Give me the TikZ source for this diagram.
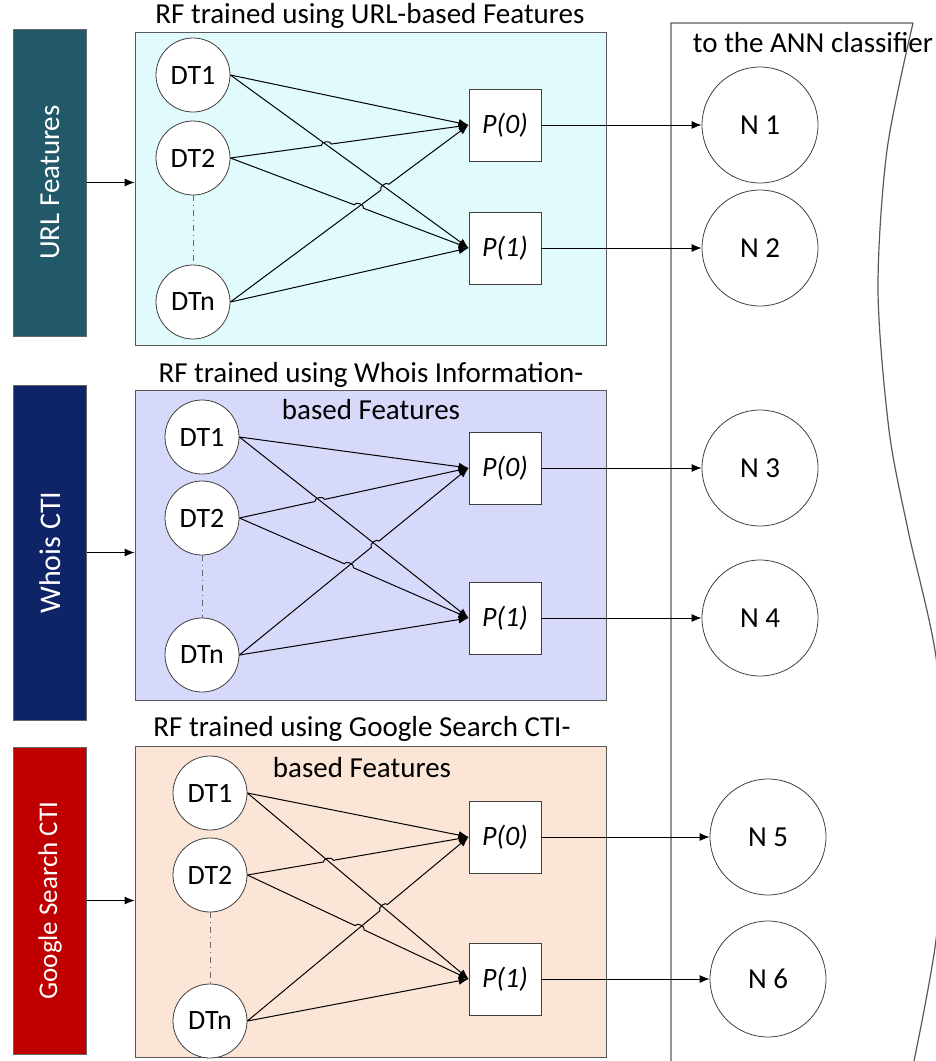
\documentclass[tikz,border=0pt]{standalone}
\usepackage{fontspec}
\setmainfont{Carlito}
\usepackage{tikz}
\usetikzlibrary{arrows.meta, calc}

\definecolor{urlbar}{HTML}{215968}
\definecolor{whoisbar}{HTML}{0F2466}
\definecolor{googlebar}{HTML}{C00000}
\definecolor{urlfill}{HTML}{E1FAFC}
\definecolor{whoisfill}{HTML}{D7D9FA}
\definecolor{googlefill}{HTML}{FBE5D6}

\begin{document}
\begin{tikzpicture}[x=0.5pt, y=-0.5pt,
      featbar/.style={rectangle, draw=black!60, rotate=90, minimum height=36.5pt, inner sep=0pt,
        text=white},
      rfbox/.style={rectangle, draw=black!65, minimum width=235.5pt, inner sep=0pt},
      tree/.style={circle, draw=black!75, fill=white, minimum size=37pt, inner sep=0pt,
        font=\fontsize{14}{16}\selectfont},
      prob/.style={rectangle, draw=black!75, fill=white, minimum size=36pt, inner sep=0pt,
        font=\fontsize{14}{16}\selectfont\itshape},
      neuron/.style={circle, draw=black!75, minimum size=58pt, inner sep=0pt,
        font=\fontsize{14.5}{16}\selectfont},
      title/.style={font=\fontsize{14.5}{18.5}\selectfont, align=center, inner sep=0pt},
      link/.style={-{Latex[length=5pt, width=4pt]}, line width=0.5pt},
      chain/.style={dash dot, black!60, line width=0.4pt}]

      \useasboundingbox (0,0) rectangle (936,1061);

      % ANN panel
      \draw[black!65, line width=0.6pt] (671,1061) -- (671,23) -- (913,23)
        plot[smooth] coordinates {(913,23) (887,150) (878,290) (889,430) (908,530)
          (936,657) (946,800) (936,940) (914,1061)};
      \node[title] (anntitle) at (813,43) {to the ANN classifier};

      % Feature sources
      \node[featbar, fill=urlbar, minimum width=153.5pt, font=\fontsize{14.5}{16}\selectfont] (urlbar) at (50,182.5) {URL Features};
      \node[featbar, fill=whoisbar, minimum width=167.5pt, font=\fontsize{15}{17}\selectfont] (whoisbar) at (50,552.5) {Whois CTI};
      \node[featbar, fill=googlebar, minimum width=153.5pt, font=\fontsize{13.5}{16}\selectfont] (googlebar) at (50,900.5) {Google Search CTI};

      % RF on URL features
      \node[rfbox, fill=urlfill, minimum height=156.5pt] (rfa) at (370.5,188.5) {};
      \node[title] (ta) at (370,16) {RF trained using URL-based Features};
      \node[tree] (dt1a) at (193,75) {DT1};
      \node[tree] (dt2a) at (193,158) {DT2};
      \node[tree] (dtna) at (193,302) {DTn};
      \node[prob] (p0a) at (505,125) {P(0)};
      \node[prob] (p1a) at (505,248) {P(1)};
      \node[neuron] (n1) at (760,125) {N 1};
      \node[neuron] (n2) at (760,248) {N 2};

      % RF on Whois features
      \node[rfbox, fill=whoisfill, minimum height=155pt] (rfb) at (370.5,545) {};
      \node[title] (tb) at (371,391.5) {RF trained using Whois Information-\\based Features};
      \node[tree] (dt1b) at (202,437) {DT1};
      \node[tree] (dt2b) at (202,518) {DT2};
      \node[tree] (dtnb) at (202,655) {DTn};
      \node[prob] (p0b) at (505,468) {P(0)};
      \node[prob] (p1b) at (505,618) {P(1)};
      \node[neuron] (n3) at (760,468) {N 3};
      \node[neuron] (n4) at (760,618) {N 4};

      % RF on Google Search features
      \node[rfbox, fill=googlefill, minimum height=155.5pt] (rfc) at (370.5,901.5) {};
      \node[title] (tc) at (362,747.5) {RF trained using Google Search CTI-\\[2pt]based Features};
      \node[tree] (dt1c) at (210,793) {DT1};
      \node[tree] (dt2c) at (210,875) {DT2};
      \node[tree] (dtnc) at (210,1021) {DTn};
      \node[prob] (p0c) at (505,837) {P(0)};
      \node[prob] (p1c) at (505,979) {P(1)};
      \node[neuron] (n5) at (768,837) {N 5};
      \node[neuron] (n6) at (768,979) {N 6};

      % Arrows
      \draw[link] (urlbar.south) -- (urlbar.south -| rfa.west);
      \draw[link] (whoisbar.south) -- (whoisbar.south -| rfb.west);
      \draw[link] (googlebar.south) -- (googlebar.south -| rfc.west);

      \foreach \b in {a,b,c} {
        \draw[chain] (dt2\b.south) -- (dtn\b.north);
        \draw[link] (dt1\b.east) -- (p0\b.west);
        \draw[link] (dt1\b.east) -- (p1\b.west);
        \draw[link] (dtn\b.east) -- (p1\b.west);
        % hops where links cross
        \coordinate (xa\b) at (intersection of dt2\b.east--p0\b.west and dt1\b.east--p1\b.west);
        \coordinate (xb\b) at (intersection of dtn\b.east--p0\b.west and dt1\b.east--p1\b.west);
        \coordinate (xc\b) at (intersection of dt2\b.east--p1\b.west and dtn\b.east--p0\b.west);
        \draw[link] (dt2\b.east) -- ($(xa\b)!2.5pt!(dt2\b.east)$) to[bend left=90] ($(xa\b)!2.5pt!(p0\b.west)$) -- (p0\b.west);
        \draw[link] (dtn\b.east) -- ($(xb\b)!2.5pt!(dtn\b.east)$) to[bend left=90] ($(xb\b)!2.5pt!(p0\b.west)$) -- (p0\b.west);
        \draw[link] (dt2\b.east) -- ($(xc\b)!2.5pt!(dt2\b.east)$) to[bend left=90] ($(xc\b)!2.5pt!(p1\b.west)$) -- (p1\b.west);
      }

      \draw[link] (p0a) -- (n1);
      \draw[link] (p1a) -- (n2);
      \draw[link] (p0b) -- (n3);
      \draw[link] (p1b) -- (n4);
      \draw[link] (p0c) -- (n5);
      \draw[link] (p1c) -- (n6);
    \end{tikzpicture}
\end{document}
